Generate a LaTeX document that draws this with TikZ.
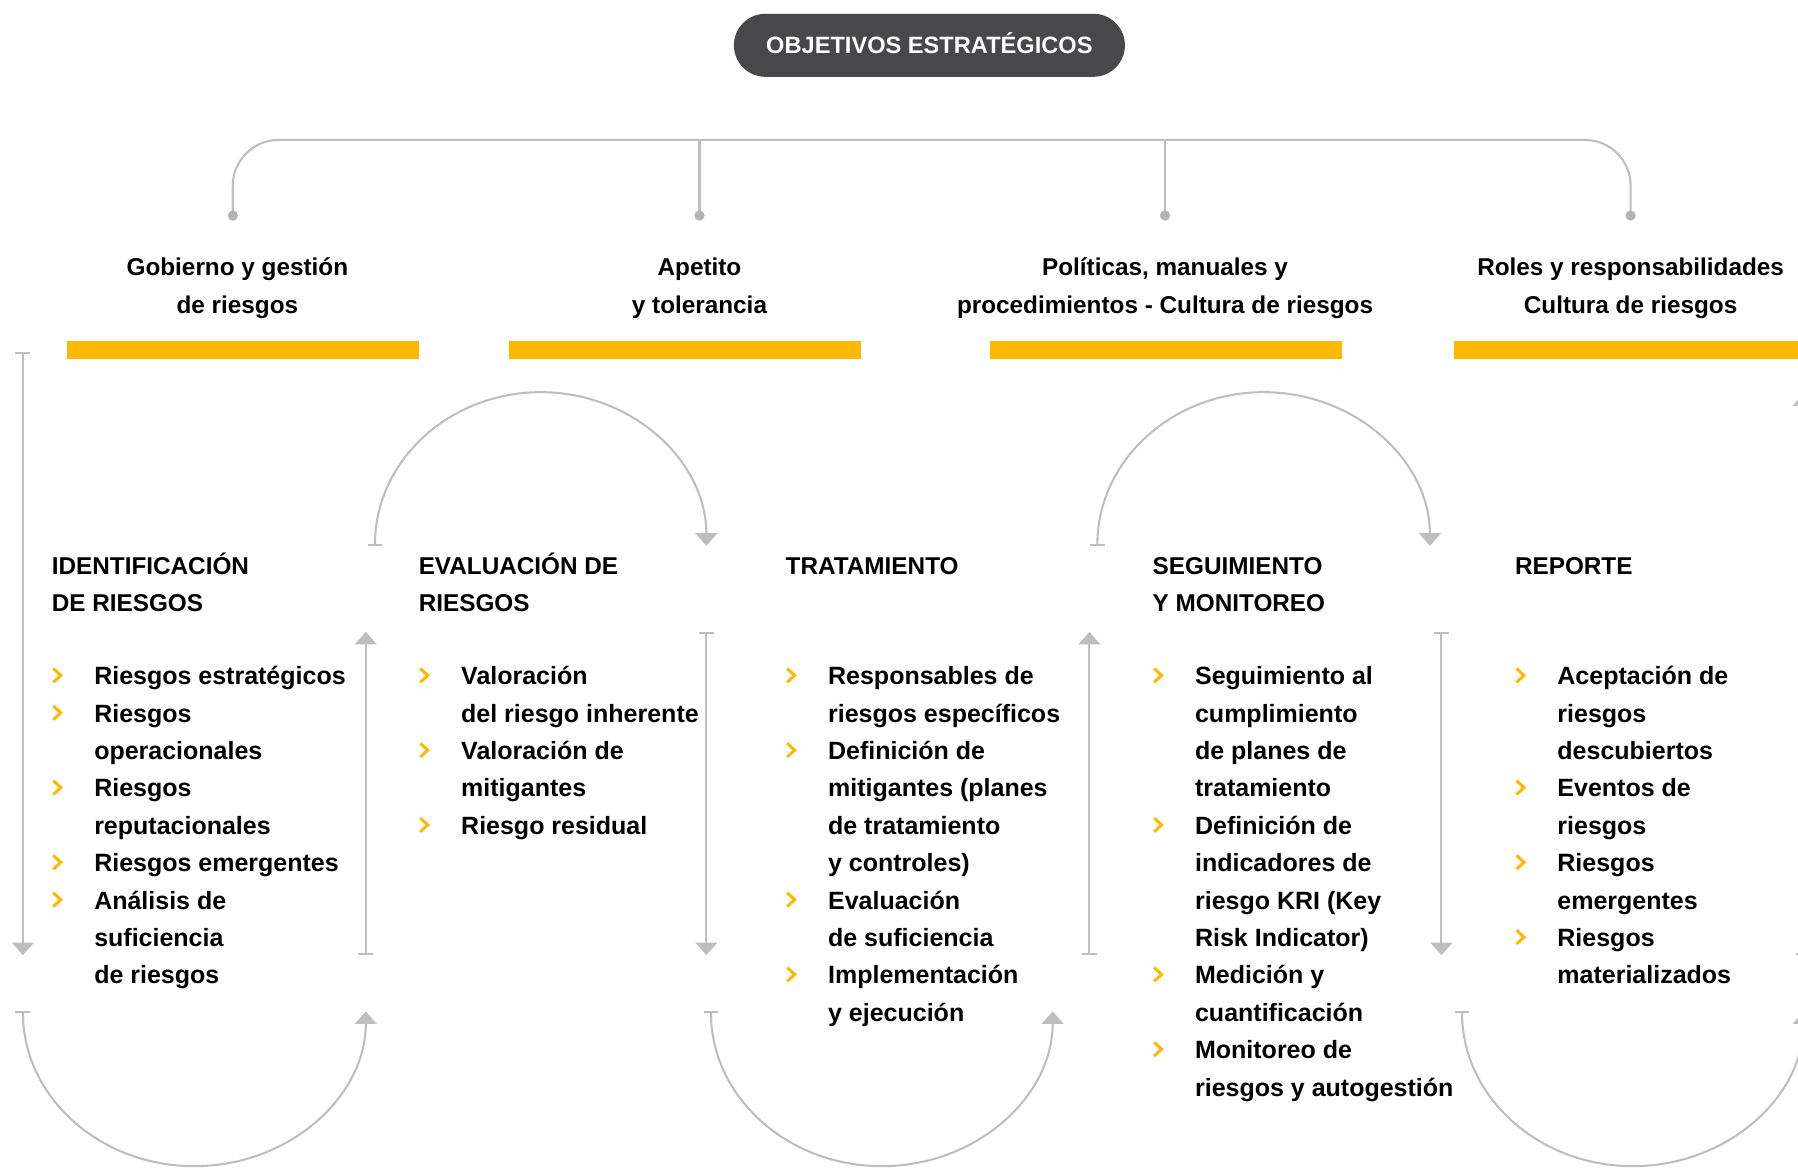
\documentclass[tikz,border=0pt]{standalone}
\usepackage{fontspec}
\setmainfont{Liberation Sans}
\usetikzlibrary{arrows.meta}
\definecolor{yelc}{RGB}{255,184,0}
\definecolor{lgray}{RGB}{190,190,190}
\definecolor{dgray}{RGB}{180,180,180}
\definecolor{pillc}{RGB}{72,72,74}
\newcommand\rskitem[4]{%
  \pgfmathsetmacro\rsky{597+32.6*#3}%
  \draw[chev] ({#2+1.5},{\rsky-14}) -- ++(6.5,6) -- ++(-6.5,6);%
  \node[btxt] (#1) at ({#2+37},{\rsky-22}) {\rule{0pt}{22pt}#4};%
}
\begin{document}
\begin{tikzpicture}[x=1pt,y=-1pt,
  txt/.style={font=\fontsize{21.2}{32.6}\selectfont\bfseries, inner sep=0pt, align=left, anchor=north west},
  btxt/.style={font=\fontsize{21.8}{32.6}\selectfont\bfseries, inner sep=0pt, align=left, anchor=north west},
  ttl/.style={font=\fontsize{21.2}{33}\selectfont\bfseries, inner sep=0pt, align=center, anchor=north},
  chev/.style={draw=yelc, line width=2.6pt, line join=miter},
  conn/.style={draw=lgray, line width=1.8pt},
  tk/.style={{Bar[width=13pt]}-{Triangle[width=19pt,length=11pt]}},
  pillnode/.style={fill=pillc, text=white, rounded corners=27.5pt, minimum width=341pt, minimum height=55pt, inner sep=0pt,
     font=\fontsize{20.6}{24}\selectfont\bfseries, text height=14.6pt, text depth=0pt},
]
\clip (0,0) rectangle (1568,1019);

% title pill
\node[pillnode] (obj) at (810.5,39.5) {OBJETIVOS ESTRATÉGICOS};

% top bracket
\coordinate (d1) at (203,188);
\coordinate (d2) at (610,188);
\coordinate (d3) at (1016,188);
\coordinate (d4) at (1422,188);
\draw[conn, rounded corners=40pt] (d1) -- (203,122) -- (1422,122) -- (d4);
\draw[conn] (610,122) -- (d2);
\draw[conn] (1016,122) -- (d3);
\foreach \d in {d1,d2,d3,d4} \fill[dgray] (\d) circle[radius=4.5];

% column titles
\node[ttl] (t1) at (207,{240-22}) {\rule{0pt}{22pt}Gobierno y gestión\\de riesgos};
\node[ttl] (t2) at (610,{240-22}) {\rule{0pt}{22pt}Apetito\\y tolerancia};
\node[ttl] (t3) at (1016,{240-22}) {\rule{0pt}{22pt}Políticas, manuales y\\procedimientos - Cultura de riesgos};
\node[ttl] (t4) at (1422,{240-22}) {\rule{0pt}{22pt}Roles y responsabilidades\\Cultura de riesgos};

% yellow bars
\fill[fill=yelc] (58,297) rectangle (365,313);
\fill[fill=yelc] (444,297) rectangle (751,313);
\fill[fill=yelc] (863,297) rectangle (1170,313);
\fill[fill=yelc] (1268,297) rectangle (1570,313);

% vertical arrows
\draw[conn, tk] (20,307) -- (20,833);
\draw[conn, tk] (319,833) -- (319,551);
\draw[conn, tk] (616,551) -- (616,833);
\draw[conn, tk] (950,833) -- (950,551);
\draw[conn, tk] (1257,551) -- (1257,833);
\draw[conn, tk] (1573,833) -- (1573,343);

% top arcs
\draw[conn, tk] (327,476) arc[start angle=180, end angle=360, x radius=144.5, y radius=134];
\draw[conn, tk] (957,476) arc[start angle=180, end angle=360, x radius=145, y radius=134];
% bottom arcs
\draw[conn, tk] (20,882) arc[start angle=180, end angle=0, x radius=149.5, y radius=135];
\draw[conn, tk] (620,882) arc[start angle=180, end angle=0, x radius=149, y radius=135];
\draw[conn, tk] (1275,882) arc[start angle=180, end angle=0, x radius=149, y radius=135];

% stage headers
\node[txt] (h1) at (45,{500.5-22}) {\rule{0pt}{22pt}IDENTIFICACIÓN\\DE RIESGOS};
\node[txt] (h2) at (365,{500.5-22}) {\rule{0pt}{22pt}EVALUACIÓN DE\\RIESGOS};
\node[txt] (h3) at (685,{500.5-22}) {\rule{0pt}{22pt}TRATAMIENTO};
\node[txt] (h4) at (1005,{500.5-22}) {\rule{0pt}{22pt}SEGUIMIENTO\\Y MONITOREO};
\node[txt] (h5) at (1321,{500.5-22}) {\rule{0pt}{22pt}REPORTE};

% column 1
\rskitem{a1}{45}{0}{Riesgos estratégicos}
\rskitem{a2}{45}{1}{Riesgos\\operacionales}
\rskitem{a3}{45}{3}{Riesgos\\reputacionales}
\rskitem{a4}{45}{5}{Riesgos emergentes}
\rskitem{a5}{45}{6}{Análisis de\\suficiencia\\de riesgos}
% column 2
\rskitem{b1}{365}{0}{Valoración\\del riesgo inherente}
\rskitem{b2}{365}{2}{Valoración de\\mitigantes}
\rskitem{b3}{365}{4}{Riesgo residual}
% column 3
\rskitem{c1}{685}{0}{Responsables de\\riesgos específicos}
\rskitem{c2}{685}{2}{Definición de\\mitigantes (planes\\de tratamiento\\y controles)}
\rskitem{c3}{685}{6}{Evaluación\\de suficiencia}
\rskitem{c4}{685}{8}{Implementación\\y ejecución}
% column 4
\rskitem{e1}{1005}{0}{Seguimiento al\\cumplimiento\\de planes de\\tratamiento}
\rskitem{e2}{1005}{4}{Definición de\\indicadores de\\riesgo KRI (Key\\Risk Indicator)}
\rskitem{e3}{1005}{8}{Medición y\\cuantificación}
\rskitem{e4}{1005}{10}{Monitoreo de\\riesgos y autogestión}
% column 5
\rskitem{f1}{1321}{0}{Aceptación de\\riesgos\\descubiertos}
\rskitem{f2}{1321}{3}{Eventos de\\riesgos}
\rskitem{f3}{1321}{5}{Riesgos\\emergentes}
\rskitem{f4}{1321}{7}{Riesgos\\materializados}
\end{tikzpicture}
\end{document}
